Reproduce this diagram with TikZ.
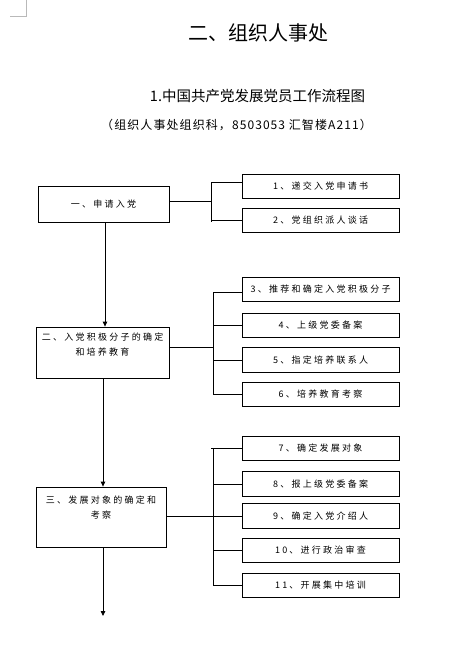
\documentclass[tikz,border=0pt]{standalone}
\usepackage{fontspec}
\newfontfamily\cjk{Noto Sans CJK SC}
\newfontfamily\cjksub[LetterSpace=9]{Noto Sans CJK SC}
\newfontfamily\boxfont[LetterSpace=25]{Noto Sans CJK SC}
\usetikzlibrary{arrows.meta}
\begin{document}
\begin{tikzpicture}[x=1pt,y=-1pt,
  box/.style={draw, line width=0.8pt, inner sep=0pt, align=center,
    font=\boxfont\fontsize{9pt}{15.5pt}\selectfont},
  rbox/.style={box, minimum width=157pt, minimum height=24.5pt},
  btext/.style={inner sep=0pt, align=center,
    font=\boxfont\fontsize{9pt}{15.5pt}\selectfont},
  link/.style={line width=0.8pt},
  arr/.style={line width=0.8pt, -{Triangle[length=5pt,width=4.5pt]}},
]
\useasboundingbox (0,0) rectangle (456,659);
% corner mark
\draw[gray!55, line width=0.6pt] (26,0) -- (26,16) -- (10,16);
% titles
\node[inner sep=0pt, font=\cjk\fontsize{20pt}{24pt}\selectfont] (title) at (258,33) {二、组织人事处};
\node[inner sep=0pt, font=\cjk\fontsize{14.5pt}{17pt}\selectfont] (sub) at (257.5,96) {1.中国共产党发展党员工作流程图};
\node[inner sep=0pt, font=\cjksub\fontsize{12pt}{14pt}\selectfont] (info) at (236.5,125) {（组织人事处组织科，8503053 汇智楼A211）};

% main boxes
\node[box, minimum width=131pt, minimum height=36pt] (b1) at (103.5,204) {一、申请入党};
\node[box, minimum width=133pt, minimum height=51pt] (b2) at (102.5,352.5) {};
\node[btext, anchor=north] (b2t) at ([yshift=-6pt]b2.north) {二、入党积极分子的确定\\和培养教育};
\node[box, minimum width=130pt, minimum height=60pt] (b3) at (101,517) {};
\node[btext, anchor=north] (b3t) at ([yshift=-9pt]b3.north) {三、发展对象的确定和\\考察};

% right boxes
\node[rbox] (r1) at (320.5,186.5) {1、递交入党申请书};
\node[rbox] (r2) at (320.5,220.5) {2、党组织派人谈话};
\node[rbox] (r3) at (320.5,289.5) {3、推荐和确定入党积极分子};
\node[rbox] (r4) at (320.5,325.5) {4、上级党委备案};
\node[rbox] (r5) at (320.5,360) {5、指定培养联系人};
\node[rbox] (r6) at (320.5,394.5) {6、培养教育考察};
\node[rbox] (r7) at (320.5,448.5) {7、确定发展对象};
\node[rbox] (r8) at (320.5,484) {8、报上级党委备案};
\node[rbox] (r9) at (320.5,516) {9、确定入党介绍人};
\node[rbox] (r10) at (320.5,550.5) {10、进行政治审查};
\node[rbox] (r11) at (320.5,585.5) {11、开展集中培训};

% bracket 1
\coordinate (s1t) at (211,182);
\coordinate (s1m) at (211,220);
\coordinate (s1b) at (211,222);
\coordinate (j1) at (211,201);
\draw[link] (b1.east |- j1) -- (j1);
\draw[link] (s1t) -- (s1b);
\draw[link] (s1t) -- (s1t -| r1.west);
\draw[link] (s1m) -- (s1m -| r2.west);

% bracket 2
\coordinate (s2t) at (213,292);
\coordinate (j2) at (213,347);
\draw[link] (b2.east |- j2) -- (j2);
\draw[link] (s2t) -- (s2t |- r6.west);
\draw[link] (s2t) -- (s2t -| r3.west);
\draw[link] (s2t |- r4.west) -- (r4.west);
\draw[link] (s2t |- r5.west) -- (r5.west);
\draw[link] (s2t |- r6.west) -- (r6.west);

% bracket 3
\coordinate (s3t) at (213,448.5);
\coordinate (j3) at (213,516);
\draw[link] (b3.east |- j3) -- (j3);
\draw[link] (s3t) -- (s3t |- r11.west);
\draw[link] ([xshift=-2pt]s3t) -- (r7.west);
\draw[link] (s3t |- r8.west) -- (r8.west);
\draw[link] (s3t |- r9.west) -- (r9.west);
\draw[link] (s3t |- r10.west) -- (r10.west);
\draw[link] (s3t |- r11.west) -- (r11.west);

% vertical arrows
\coordinate (a1) at (105,0);
\coordinate (a2) at (103,0);
\coordinate (endpt) at (103,616);
\draw[arr] (b1.south -| a1) -- (b2.north -| a1);
\draw[arr] (b2.south -| a2) -- (b3.north -| a2);
\draw[arr] (b3.south -| endpt) -- (endpt);
\end{tikzpicture}
\end{document}
